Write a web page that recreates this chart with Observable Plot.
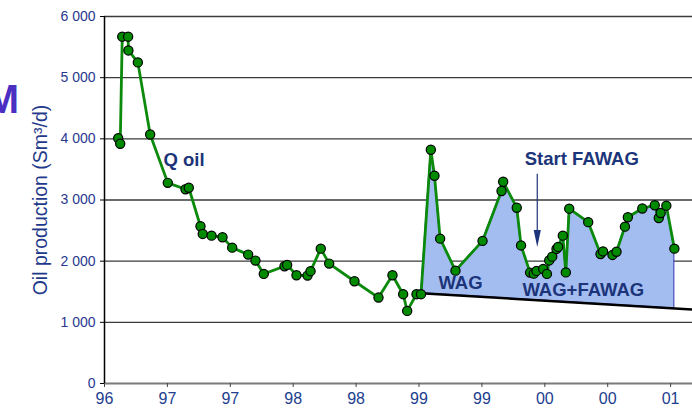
<!DOCTYPE html>
<html>
<head>
<meta charset="utf-8">
<script src="https://cdn.jsdelivr.net/npm/d3@7"></script>
<script src="https://cdn.jsdelivr.net/npm/@observablehq/plot@0.6"></script>
<style>
  html, body { margin: 0; padding: 0; background: #fff; }
  #chart { width: 692px; height: 408px; overflow: hidden; }
</style>
</head>
<body>
<div id="chart"></div>
<script>
// Time in decimal years, oil rate in Sm3/d
const years = [1996.609,1996.625,1996.641,1996.688,1996.690,1996.765,1996.863,1997.003,1997.144,1997.170,
  1997.263,1997.281,1997.351,1997.438,1997.515,1997.642,1997.700,1997.766,1997.931,1997.952,
  1998.026,1998.114,1998.138,1998.219,1998.286,1998.487,1998.678,1998.789,1998.874,1998.906,
  1998.980,1999.016,1999.094,1999.123,1999.168,1999.290,1999.505,1999.656,1999.669,1999.777,
  1999.811,1999.883,1999.912,1999.934,1999.987,2000.017,2000.035,2000.059,2000.093,2000.106,
  2000.143,2000.167,2000.194,2000.345,2000.443,2000.463,2000.538,2000.570,2000.637,2000.660,
  2000.775,2000.874,2000.906,2000.921,2000.966,2001.030];
const oil = [4010,3920,5670,5670,5445,5250,4070,3280,3175,3200,
  2570,2445,2417,2391,2221,2107,2009,1792,1917,1939,
  1770,1764,1836,2205,1960,1672,1405,1770,1460,1187,
  1460,1460,3822,3397,2368,1845,2331,3147,3299,2874,
  2257,1813,1796,1841,1873,1792,2012,2074,2200,2233,
  2417,1816,2858,2638,2118,2159,2102,2154,2564,2718,
  2861,2914,2706,2788,2907,2205];
// Index of first point of the WAG / FAWAG period (start of shaded area)
const wagStartIndex = 31;
// Decline baseline (two end points)
const baseX = [1999.016, 2001.174];
const baseY = [1476, 1209];

const xTicks = [1996.5,1997,1997.5,1998,1998.5,1999,1999.5,2000,2000.5,2001];
const xTickLabels = ["96","97","97","98","98","99","99","00","00","01"];
const yTicks = [0,1000,2000,3000,4000,5000,6000];
const yTickLabels = ["0","1 000","2 000","3 000","4 000","5 000","6 000"];

// Annotations (data coordinates)
const noteText = ["Q oil","Start FAWAG","WAG","WAG+FAWAG"];
const noteX = [1997.132,2000.294,1999.330,2000.306];
const noteY = [3653,3662,1636,1534];
const arrowX = 1999.94, arrowY1 = 3420, arrowHeadY = 2371;

const series = years.map((x, i) => ({x, y: oil[i]}));
const baseline = d3.scaleLinear().domain(baseX).range(baseY);
const areaData = series.slice(wagStartIndex).map(d => ({x: d.x, y1: baseline(d.x), y2: d.y}));
const baseData = baseX.map((x, i) => ({x, y: baseY[i]}));
const notes = noteText.map((t, i) => ({t, x: noteX[i], y: noteY[i]}));

const navy = "#1c3479";
const font = "'Liberation Sans', Arial, sans-serif";

const headSymbol = {
  draw(ctx, size) {
    const r = Math.sqrt(size / Math.PI);
    ctx.moveTo(-r * 0.42, -r);
    ctx.lineTo(r * 0.42, -r);
    ctx.lineTo(0, r);
    ctx.closePath();
  }
};

const chart = Plot.plot({
  width: 692,
  height: 408,
  marginLeft: 104,
  marginRight: 0,
  marginTop: 16,
  marginBottom: 25,
  style: {fontFamily: font, background: "#fff"},
  x: {domain: [1996.5, 2001.174], axis: null},
  y: {domain: [0, 6000], axis: null},
  marks: [
    Plot.ruleY(yTicks.filter(d => d > 0), {stroke: "#3a3a3a", strokeWidth: 1.3}),
    Plot.areaY(areaData, {x: "x", y1: "y1", y2: "y2", fill: "#a3bdf1", stroke: "#2020b0", strokeWidth: 0.9}),
    Plot.line(baseData, {x: "x", y: "y", stroke: "#000", strokeWidth: 2.4}),
    Plot.ruleY([0], {stroke: "#7a7a7a", strokeWidth: 2}),
    Plot.ruleX([1996.5], {stroke: "#000", strokeWidth: 1.5}),
    Plot.axisY({ticks: yTicks, tickFormat: d => yTickLabels[yTicks.indexOf(d)], tickSize: 4, tickPadding: 5,
      fontSize: 14, color: "#27378f", label: null, stroke: "#000"}),
    Plot.axisX({ticks: xTicks, tickFormat: d => xTickLabels[xTicks.indexOf(d)], tickSize: 4, tickPadding: 5,
      fontSize: 16, color: "#22408f", label: null, stroke: "#444"}),
    Plot.line(series, {x: "x", y: "y", stroke: "#0b8a0b", strokeWidth: 2.8, strokeLinejoin: "round"}),
    Plot.dot(series, {x: "x", y: "y", r: 4.6, fill: "#008a00", stroke: "#000", strokeWidth: 1.2}),
    Plot.text(notes, {x: "x", y: "y", text: "t", fill: navy, fontSize: 18.5, fontWeight: "bold", textAnchor: "middle"}),
    Plot.ruleX([arrowX], {y1: arrowY1, y2: arrowHeadY, stroke: navy, strokeWidth: 1.2}),
    Plot.dot([arrowX], {x: d => d, y: arrowHeadY, symbol: headSymbol, r: 8.5, fill: navy, stroke: "none"}),
    Plot.text(["Oil production (Sm³/d)"], {frameAnchor: "left", dx: -64, rotate: -90, fontSize: 19.5,
      fill: "#1f3a8a", textAnchor: "middle"}),
    Plot.text(["M"], {frameAnchor: "top-left", dx: -102, dy: 96, lineAnchor: "bottom", fontSize: 40,
      fontWeight: "bold", fill: "#4a2fc2", textAnchor: "middle"})
  ]
});
document.getElementById("chart").appendChild(chart);
</script>
</body>
</html>
